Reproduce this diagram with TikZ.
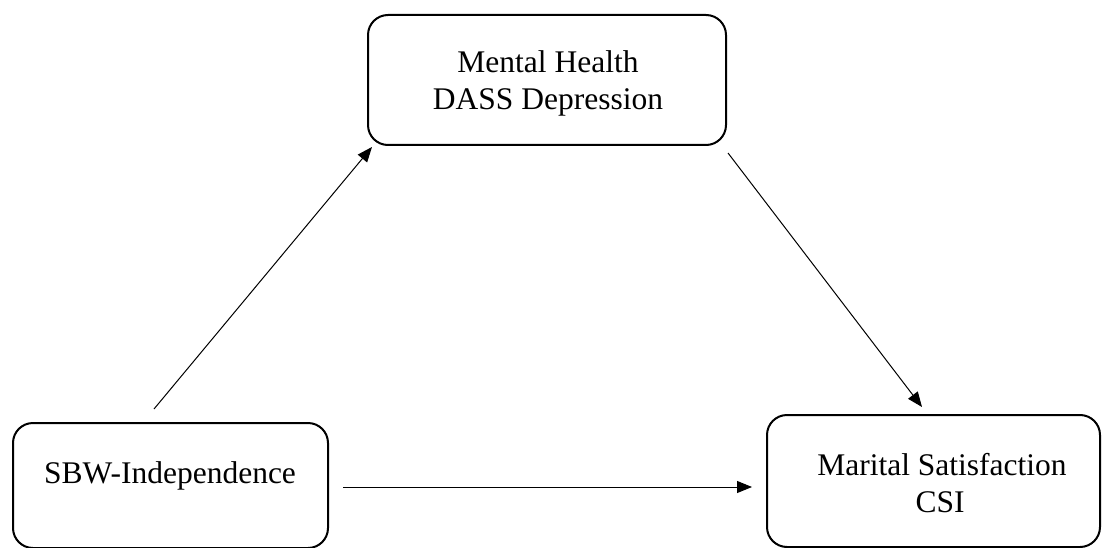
\documentclass[tikz,border=0pt]{standalone}
\usepackage{fontspec}
\setmainfont{Liberation Serif}
\usetikzlibrary{arrows.meta}
\begin{document}
\begin{tikzpicture}[x=1pt,y=-1pt,
  box/.style={draw=black,line width=2pt,rounded corners=20pt,inner sep=0pt,
    minimum width=#1},
  box/.default=300pt,
  lbl/.style={anchor=base,inner sep=0pt,font=\fontsize{31.5}{37}\selectfont},
  path/.style={line width=1pt,-{Triangle[length=15pt,width=12pt]}}]
\useasboundingbox (0,0) rectangle (1102,548);

% the three measures
\node[box=358pt,minimum height=130pt] (mh) at (547,80) {};
\node[box=315pt,minimum height=125pt] (sbw) at (170.5,485.5) {};
\node[box=333pt,minimum height=132pt] (ms) at (933.5,481) {};

\node[lbl] (mhA) at (548,73) {Mental Health};
\node[lbl] (mhB) at (548,110) {DASS Depression};
\node[lbl] (sbwA) at (170,483) {SBW-Independence};
\node[lbl] (msA) at (942,475) {Marital Satisfaction};
\node[lbl] (msB) at (940,512) {CSI};

% end points of the paths
\coordinate (p1s) at (154,409);
\coordinate (p1e) at (372,147);
\coordinate (p2s) at (728,153);
\coordinate (p2e) at (922,407);
\coordinate (p3s) at (343,487);
\coordinate (p3e) at (752,487);

\draw[path] (p1s) -- (p1e);
\draw[path] (p2s) -- (p2e);
\draw[path] (p3s) -- (p3e);
\end{tikzpicture}
\end{document}
